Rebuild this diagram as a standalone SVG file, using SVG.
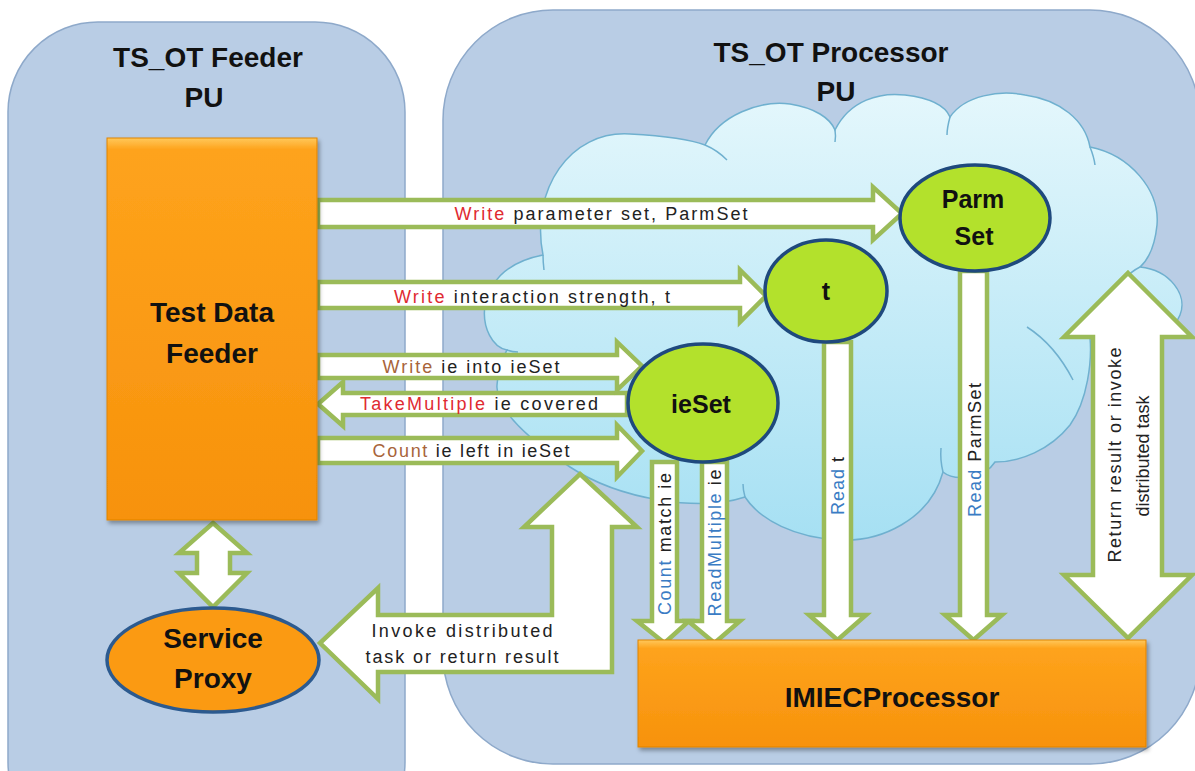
<svg xmlns="http://www.w3.org/2000/svg" width="1195" height="771" viewBox="0 0 1195 771">
<defs>
  <linearGradient id="cloudGrad" x1="0" y1="0" x2="0" y2="1">
    <stop offset="0" stop-color="#e4f7fc"/>
    <stop offset="1" stop-color="#a6e0f3"/>
  </linearGradient>
  <linearGradient id="orangeGrad" x1="0" y1="0" x2="0" y2="1">
    <stop offset="0" stop-color="#ffc85a"/>
    <stop offset="0.03" stop-color="#fea31c"/>
    <stop offset="1" stop-color="#f7920c"/>
  </linearGradient>
  <linearGradient id="orangeGrad2" x1="0" y1="0" x2="0" y2="1">
    <stop offset="0" stop-color="#ffc85a"/>
    <stop offset="0.08" stop-color="#fea31c"/>
    <stop offset="1" stop-color="#f7920c"/>
  </linearGradient>
  <filter id="shadow" x="-10%" y="-10%" width="130%" height="130%">
    <feDropShadow dx="2" dy="3" stdDeviation="2" flood-color="#000" flood-opacity="0.35"/>
  </filter>
</defs>
<style>
  .panel{fill:#b9cde5;stroke:#8ea9ca;stroke-width:1.5}
  .cloud{fill:url(#cloudGrad);stroke:#6fb0cf;stroke-width:1.5}
  .inner{fill:none;stroke:#6fb0cf;stroke-width:1.5}
  .arrow{fill:#ffffff;stroke:#9bbb59;stroke-width:4.5;stroke-linejoin:miter}
  .green{fill:#b3e12c;stroke:#1f497d;stroke-width:3.5}
  .orange{stroke:#e08300;stroke-width:1}
  .title{font-family:"Liberation Sans",Arial,sans-serif;font-weight:bold;font-size:28px;fill:#111;text-anchor:middle}
  .node{font-family:"Liberation Sans",Arial,sans-serif;font-weight:bold;font-size:28px;fill:#111;text-anchor:middle}
  .cnode{font-family:"Liberation Sans",Arial,sans-serif;font-weight:bold;font-size:25px;fill:#111;text-anchor:middle}
  .lbl{font-family:"Liberation Sans",Arial,sans-serif;font-size:18px;fill:#222;text-anchor:middle}
  .red{fill:#e02a31}
  .brown{fill:#a8643a}
  .blue{fill:#3a7cc4}
</style>

<g id="feeder-pu">
  <rect class="panel" x="8" y="22" width="397" height="830" rx="90" ry="90"/>
  <text class="title" x="208" y="67">TS_OT Feeder</text>
  <text class="title" x="204" y="107">PU</text>
</g>

<g id="processor-pu">
  <rect class="panel" x="443" y="10" width="757" height="754" rx="110" ry="110"/>
  <text class="title" x="831" y="62">TS_OT Processor</text>
  <text class="title" x="836" y="101">PU</text>
</g>

<g id="space-cloud">
  <path class="cloud" d="M 507 350 C 478 345 465 270 543 255 C 530 190 570 130 630 134 C 665 136 692 140 705 145 C 720 115 760 100 790 104 C 815 108 830 118 835 130 C 850 100 880 92 905 95 C 930 98 945 105 950 117 C 965 95 1000 90 1025 95 C 1060 100 1085 120 1090 147 C 1130 155 1160 190 1157 225 C 1155 245 1150 258 1140 267 C 1170 270 1188 295 1180 315 C 1170 340 1120 345 1090 338 C 1092 360 1088 400 1070 425 C 1050 450 1020 462 995 462 C 985 478 955 482 943 472 C 930 520 880 542 840 540 C 795 538 760 520 745 497 C 700 512 620 500 570 467 C 530 440 495 410 497 385 C 498 368 502 358 507 350 Z"/>
  <path class="inner" d="M 705 145 Q 717 150 727 160"/>
  <path class="inner" d="M 835 130 Q 836 136 835 142"/>
  <path class="inner" d="M 950 117 Q 947 128 947 135"/>
  <path class="inner" d="M 1090 147 Q 1094 157 1095 165"/>
  <path class="inner" d="M 1140 267 Q 1130 272 1124 280"/>
  <path class="inner" d="M 1027 327 Q 1055 345 1073 380"/>
  <path class="inner" d="M 943 472 Q 940 460 941 448"/>
  <path class="inner" d="M 745 497 Q 743 490 743 484"/>
  <path class="inner" d="M 507 350 Q 512 352 518 352"/>
  <path class="inner" d="M 543 255 Q 543 262 544 270"/>
</g>

<g id="connectors">
  <polygon class="arrow" points="213,523 247,553 230,553 230,573 247,573 213,607 179,573 197,573 197,553 179,553"/>
  <polygon class="arrow" points="580,474 637,527 612,527 612,672 378,672 378,699 320,643 378,588 378,615 552,615 552,527 524,527"/>
  <polygon class="arrow" points="652,462 677,462 677,621 689,621 664.5,643 637,621 652,621"/>
  <polygon class="arrow" points="702,462 727,462 727,621 740,621 714.5,643 688,621 702,621"/>
  <polygon class="arrow" points="824,342 851,342 851,615 866,615 837.5,640 809,615 824,615"/>
  <polygon class="arrow" points="960,271 987,271 987,615 1002,615 973.5,640 945,615 960,615"/>
  <polygon class="arrow" points="1128,273 1192,337 1162,337 1162,575 1192,575 1128,638 1064,575 1093,575 1093,337 1064,337"/>
  <polygon class="arrow" points="627,393 343,393 343,382 318,404 343,426 343,415 627,415"/>
  <polygon class="arrow" points="318,200 873,200 873,187 902,213.5 873,240 873,227 318,227"/>
  <polygon class="arrow" points="318,282 740,282 740,270 766,296 740,322 740,308 318,308"/>
  <polygon class="arrow" points="318,355 617,355 617,342 642,366 617,390 617,378 318,378"/>
  <polygon class="arrow" points="318,438 617,438 617,425 642,451 617,477 617,463 318,463"/>

  <text class="lbl" x="601" y="220" textLength="293" lengthAdjust="spacing"><tspan class="red">Write</tspan> parameter set, ParmSet</text>
  <text class="lbl" x="532" y="303" textLength="276" lengthAdjust="spacing"><tspan class="red">Write</tspan> interaction strength, t</text>
  <text class="lbl" x="471" y="373" textLength="177" lengthAdjust="spacing"><tspan class="brown">Write</tspan> ie into ieSet</text>
  <text class="lbl" x="479" y="410" textLength="238" lengthAdjust="spacing"><tspan class="red">TakeMultiple</tspan> ie covered</text>
  <text class="lbl" x="471" y="457" textLength="197" lengthAdjust="spacing"><tspan class="brown">Count</tspan> ie left in ieSet</text>
  <text class="lbl" x="462" y="637" textLength="181" lengthAdjust="spacing">Invoke distributed</text>
  <text class="lbl" x="462" y="663" textLength="193" lengthAdjust="spacing">task or return result</text>

  <text class="lbl" transform="translate(665,544) rotate(-90)" x="0" y="6" textLength="142" lengthAdjust="spacing"><tspan class="blue">Count</tspan> match ie</text>
  <text class="lbl" transform="translate(715,543) rotate(-90)" x="0" y="6" textLength="147" lengthAdjust="spacing"><tspan class="blue">ReadMultiple</tspan> ie</text>
  <text class="lbl" transform="translate(838,486) rotate(-90)" x="0" y="6" textLength="58" lengthAdjust="spacing"><tspan class="blue">Read</tspan> t</text>
  <text class="lbl" transform="translate(975,450) rotate(-90)" x="0" y="6" textLength="134" lengthAdjust="spacing"><tspan class="blue">Read</tspan> ParmSet</text>
  <text class="lbl" transform="translate(1115,455) rotate(-90)" x="0" y="6" textLength="215" lengthAdjust="spacing">Return result or invoke</text>
  <text class="lbl" transform="translate(1143,456) rotate(-90)" x="0" y="6">distributed task</text>
</g>

<g id="test-data-feeder">
  <rect class="orange" x="107" y="138" width="210" height="382" fill="url(#orangeGrad)" filter="url(#shadow)"/>
  <text class="node" x="212" y="322">Test Data</text>
  <text class="node" x="212" y="363">Feeder</text>
</g>

<g id="service-proxy">
  <ellipse cx="213" cy="660" rx="106" ry="52" fill="#fb9a12" stroke="#2c5a8f" stroke-width="3.5"/>
  <text class="node" x="213" y="648" font-size="27">Service</text>
  <text class="node" x="213" y="688" font-size="27">Proxy</text>
</g>

<g id="parmset">
  <ellipse class="green" cx="975" cy="218" rx="75" ry="53"/>
  <text class="cnode" x="973" y="208">Parm</text>
  <text class="cnode" x="974" y="245">Set</text>
</g>

<g id="t-node">
  <ellipse class="green" cx="826" cy="291" rx="61" ry="51"/>
  <text class="cnode" x="826" y="300">t</text>
</g>

<g id="ieset">
  <ellipse class="green" cx="703" cy="403" rx="75" ry="59"/>
  <text class="cnode" x="701" y="413">ieSet</text>
</g>

<g id="imiecprocessor">
  <rect class="orange" x="638" y="640" width="508" height="107" fill="url(#orangeGrad2)" filter="url(#shadow)"/>
  <text class="node" x="892" y="707">IMIECProcessor</text>
</g>
</svg>
